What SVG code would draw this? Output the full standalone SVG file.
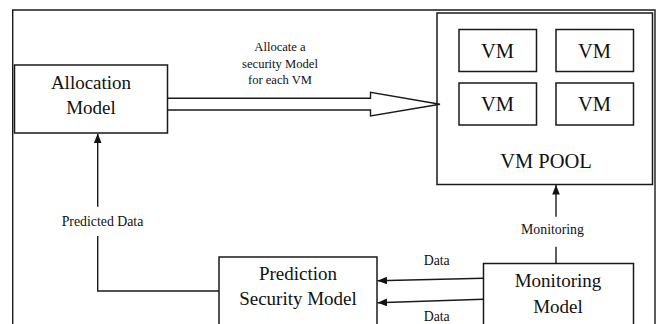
<svg xmlns="http://www.w3.org/2000/svg" width="657" height="324" viewBox="0 0 657 324">
<defs>
<style>
.box{fill:#fff;stroke:#1a1a1a;stroke-width:1.5}
.ln{fill:none;stroke:#1a1a1a;stroke-width:1.4}
.big{font-family:"Liberation Serif","Times New Roman",serif;font-size:19px;fill:#111;text-anchor:middle}
.vm{font-family:"Liberation Serif","Times New Roman",serif;font-size:20.5px;fill:#111;text-anchor:middle}
.sm{font-family:"Liberation Serif","Times New Roman",serif;font-size:13.8px;fill:#111;text-anchor:middle}
.xs{font-family:"Liberation Serif","Times New Roman",serif;font-size:12.6px;fill:#111;text-anchor:middle}
</style>
<marker id="ah" viewBox="0 0 10 8" refX="10" refY="4" markerWidth="9.5" markerHeight="8" markerUnits="userSpaceOnUse" orient="auto">
<path d="M0,0 L10,4 L0,8 Z" fill="#111"/>
</marker>
</defs>
<rect width="657" height="324" fill="#fff"/>
<g id="frame">
<path class="ln" d="M12.7,324 V10 H655 V324" stroke-width="1.2"/>
</g>
<g id="allocation">
<rect class="box" x="14.5" y="65" width="153" height="68"/>
<text class="big" x="91" y="89">Allocation</text>
<text class="big" x="91" y="114">Model</text>
</g>
<g id="vmpool">
<rect class="box" x="437" y="13" width="215.5" height="171.5" stroke-width="1.8"/>
<g id="vm1"><rect class="box" x="459" y="29.5" width="77.5" height="42"/><text class="vm" x="497.5" y="58">VM</text></g>
<g id="vm2"><rect class="box" x="556" y="29.5" width="77.5" height="42"/><text class="vm" x="594.5" y="58">VM</text></g>
<g id="vm3"><rect class="box" x="459" y="83" width="77.5" height="42"/><text class="vm" x="497.5" y="111">VM</text></g>
<g id="vm4"><rect class="box" x="556" y="83" width="77.5" height="42"/><text class="vm" x="594.5" y="111">VM</text></g>
<text class="vm" x="546" y="168" font-size="21px">VM POOL</text>
</g>
<g id="prediction">
<rect class="box" x="219" y="257" width="158" height="80"/>
<text class="big" x="298" y="280">Prediction</text>
<text class="big" x="298" y="305">Security Model</text>
</g>
<g id="monitoring">
<rect class="box" x="483.5" y="263.5" width="150" height="80"/>
<text class="big" x="558" y="287">Monitoring</text>
<text class="big" x="558" y="313">Model</text>
</g>
<g id="connectors">
<path class="ln" d="M167.5,98.3 H370.5 V92.3 L440,104.3 L370.5,116 V110 H167.5" fill="#fff"/>
<path class="ln" d="M219,291 H97.7 V236"/>
<path class="ln" d="M97.7,206.7 V133.5" marker-end="url(#ah)"/>
<path class="ln" d="M556,263.5 V246.7"/>
<path class="ln" d="M556,216.7 V185" marker-end="url(#ah)"/>
<path class="ln" d="M483.5,278.3 L377.5,280.7" marker-end="url(#ah)"/>
<path class="ln" d="M483.5,299.3 L377.5,302.7" marker-end="url(#ah)"/>
<text class="xs" x="280" y="51">Allocate a</text>
<text class="xs" x="280" y="67.5">security Model</text>
<text class="xs" x="280" y="84">for each VM</text>
<text class="sm" x="102.5" y="226">Predicted Data</text>
<text class="sm" x="552.5" y="234">Monitoring</text>
<text class="sm" x="436.7" y="264.5">Data</text>
<text class="sm" x="436.7" y="321">Data</text>
</g>
</svg>
